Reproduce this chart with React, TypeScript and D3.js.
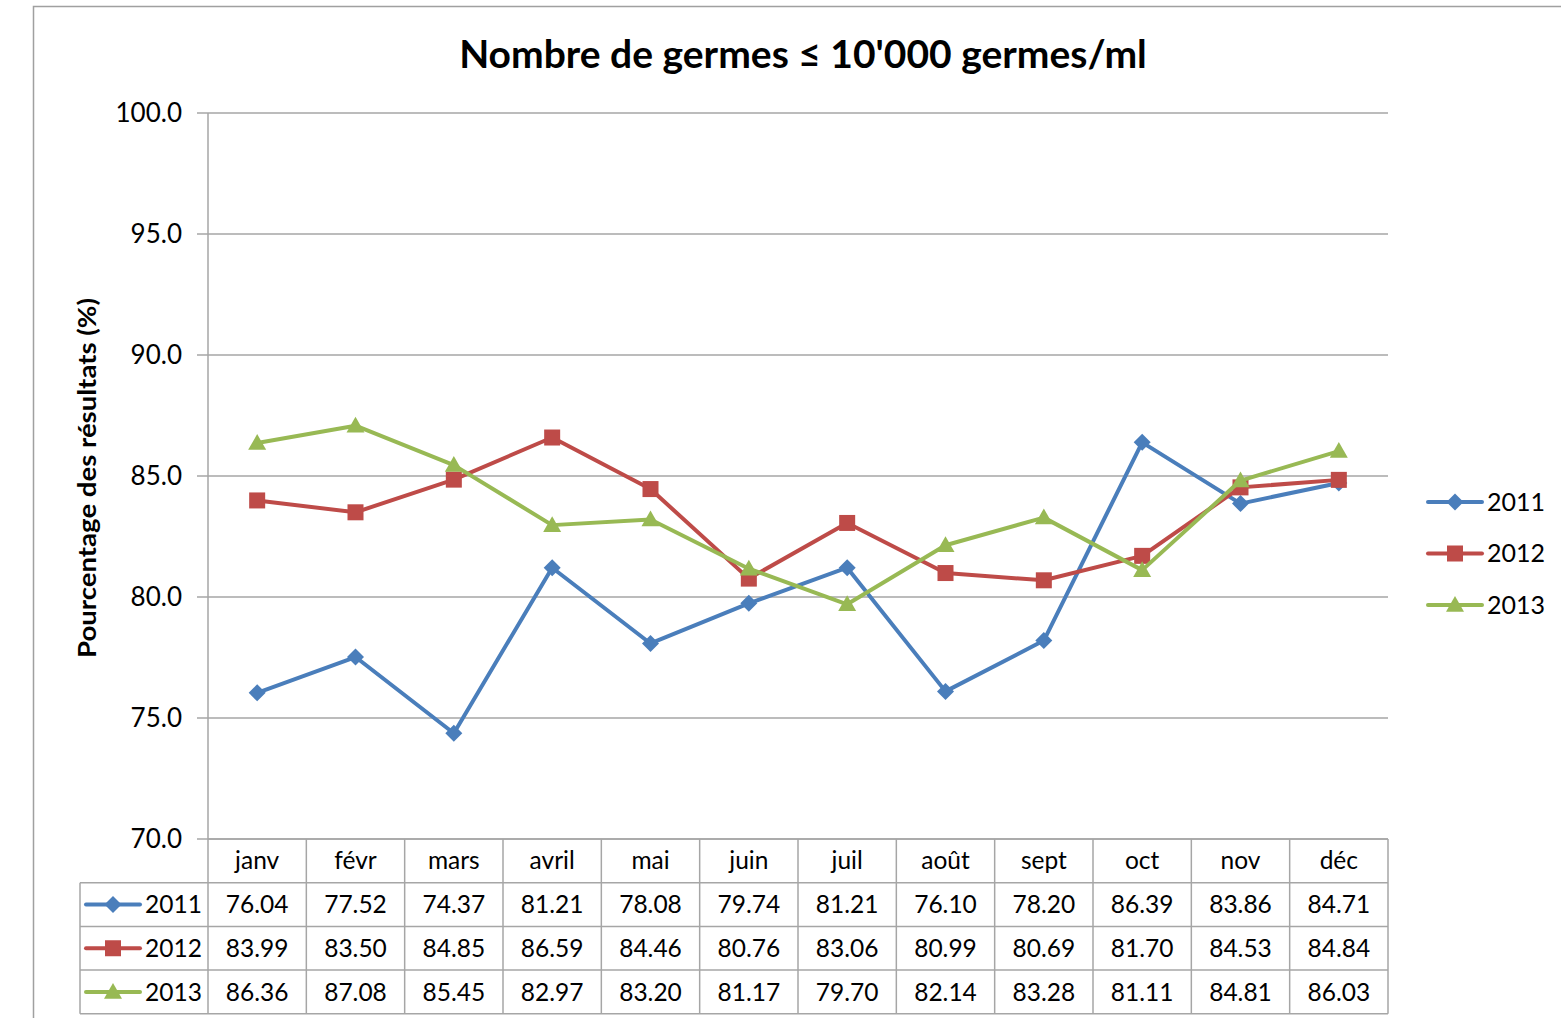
import { useEffect } from "react";
import * as d3 from "d3";

const MONTHS = ["janv", "févr", "mars", "avril", "mai", "juin", "juil", "août", "sept", "oct", "nov", "déc"];
const SERIES_NAMES = ["2011", "2012", "2013"];
const VALUES_2011 = [76.04, 77.52, 74.37, 81.21, 78.08, 79.74, 81.21, 76.1, 78.2, 86.39, 83.86, 84.71];
const VALUES_2012 = [83.99, 83.5, 84.85, 86.59, 84.46, 80.76, 83.06, 80.99, 80.69, 81.7, 84.53, 84.84];
const VALUES_2013 = [86.36, 87.08, 85.45, 82.97, 83.2, 81.17, 79.7, 82.14, 83.28, 81.11, 84.81, 86.03];
const Y_TICKS = [70, 75, 80, 85, 90, 95, 100];

const COLORS = ["#4a7ebb", "#be4b48", "#98b954"];
const FONT = "Lato, 'Open Sans', sans-serif";

const W = 1561;
const H = 1018;
const PLOT = { left: 208, right: 1388, top: 113, bottom: 839 };
const ROW_H = 43.7;

function Marker({ kind, x, y, color }: { kind: number; x: number; y: number; color: string }) {
  if (kind === 0) {
    const s = 8.5;
    return <path d={`M${x},${y - s}L${x + s},${y}L${x},${y + s}L${x - s},${y}Z`} fill={color} />;
  }
  if (kind === 1) {
    const s = 8;
    return <rect x={x - s} y={y - s} width={s * 2} height={s * 2} fill={color} />;
  }
  const s = 9;
  return <path d={`M${x},${y - s}L${x + s},${y + s * 0.75}L${x - s},${y + s * 0.75}Z`} fill={color} />;
}

function LegendKey({ kind, x, y }: { kind: number; x: number; y: number }) {
  return (
    <g>
      <line x1={x} x2={x + 54} y1={y} y2={y} stroke={COLORS[kind]} strokeWidth={4} strokeLinecap="round" />
      <Marker kind={kind} x={x + 27} y={y} color={COLORS[kind]} />
    </g>
  );
}

export default function App() {
  useEffect(() => {
    document.body.style.margin = "0";
  }, []);

  const series = [VALUES_2011, VALUES_2012, VALUES_2013];
  const x = d3.scaleBand<string>().domain(MONTHS).range([PLOT.left, PLOT.right]);
  const y = d3.scaleLinear().domain([70, 100]).range([PLOT.bottom, PLOT.top]);
  const cx = (m: string) => (x(m) ?? 0) + x.bandwidth() / 2;
  const line = d3
    .line<number>()
    .x((_, i) => cx(MONTHS[i]))
    .y((d) => y(d));

  const tableLeft = 80;
  const tableBottom = PLOT.bottom + ROW_H * 4;
  const grid = "#a6a6a6";

  return (
    <svg width={W} height={H} style={{ display: "block", fontFamily: FONT }}>
      <rect x={0} y={0} width={W} height={H} fill="#fff" />
      <rect x={33.5} y={6.5} width={W + 20} height={H + 20} fill="none" stroke="#a0a0a0" strokeWidth={1.5} />

      <text x={803} y={68} textAnchor="middle" fontSize={39} fontWeight={700} fill="#000">
        Nombre de germes ≤ 10'000 germes/ml
      </text>

      {/* gridlines and y axis */}
      {Y_TICKS.map((t) => (
        <g key={t}>
          <line x1={197} x2={PLOT.right} y1={y(t)} y2={y(t)} stroke={grid} strokeWidth={1.5} />
          <text x={182} y={y(t)} dy="0.35em" textAnchor="end" fontSize={26} fill="#000">
            {t.toFixed(1)}
          </text>
        </g>
      ))}
      <line x1={PLOT.left} x2={PLOT.left} y1={PLOT.top} y2={tableBottom} stroke={grid} strokeWidth={1.5} />
      <text
        transform={`translate(96,${478}) rotate(-90)`}
        textAnchor="middle"
        fontSize={24}
        fontWeight={700}
        fill="#000"
        textLength={360}
        lengthAdjust="spacingAndGlyphs"
      >
        Pourcentage des résultats (%)
      </text>

      {/* data table */}
      {[0, 1, 2, 3, 4].map((r) => (
        <line
          key={r}
          x1={r === 0 ? PLOT.left : tableLeft}
          x2={PLOT.right}
          y1={PLOT.bottom + ROW_H * r}
          y2={PLOT.bottom + ROW_H * r}
          stroke={grid}
          strokeWidth={1.5}
        />
      ))}
      <line x1={tableLeft} x2={tableLeft} y1={PLOT.bottom + ROW_H} y2={tableBottom} stroke={grid} strokeWidth={1.5} />
      {MONTHS.map((m) => (
        <line
          key={m}
          x1={(x(m) ?? 0) + x.bandwidth()}
          x2={(x(m) ?? 0) + x.bandwidth()}
          y1={PLOT.bottom}
          y2={tableBottom}
          stroke={grid}
          strokeWidth={1.5}
        />
      ))}
      {MONTHS.map((m) => (
        <text key={m} x={cx(m)} y={PLOT.bottom + ROW_H / 2} dy="0.35em" textAnchor="middle" fontSize={24.5} fill="#000">
          {m}
        </text>
      ))}
      {series.map((vals, s) => {
        const ry = PLOT.bottom + ROW_H * (s + 1.5);
        return (
          <g key={s}>
            <LegendKey kind={s} x={tableLeft + 6} y={ry} />
            <text x={tableLeft + 65} y={ry} dy="0.35em" fontSize={24.5} fill="#000">
              {SERIES_NAMES[s]}
            </text>
            {vals.map((v, i) => (
              <text key={i} x={cx(MONTHS[i])} y={ry} dy="0.35em" textAnchor="middle" fontSize={24.5} fill="#000">
                {v.toFixed(2)}
              </text>
            ))}
          </g>
        );
      })}

      {/* series */}
      {series.map((vals, s) => (
        <g key={s}>
          <path d={line(vals) ?? ""} fill="none" stroke={COLORS[s]} strokeWidth={4} strokeLinejoin="round" />
          {vals.map((v, i) => (
            <Marker key={i} kind={s} x={cx(MONTHS[i])} y={y(v)} color={COLORS[s]} />
          ))}
        </g>
      ))}

      {/* legend */}
      {SERIES_NAMES.map((n, s) => {
        const ly = 502 + s * 51.5;
        return (
          <g key={n}>
            <LegendKey kind={s} x={1428} y={ly} />
            <text x={1487} y={ly} dy="0.35em" fontSize={25} fill="#000">
              {n}
            </text>
          </g>
        );
      })}
    </svg>
  );
}
